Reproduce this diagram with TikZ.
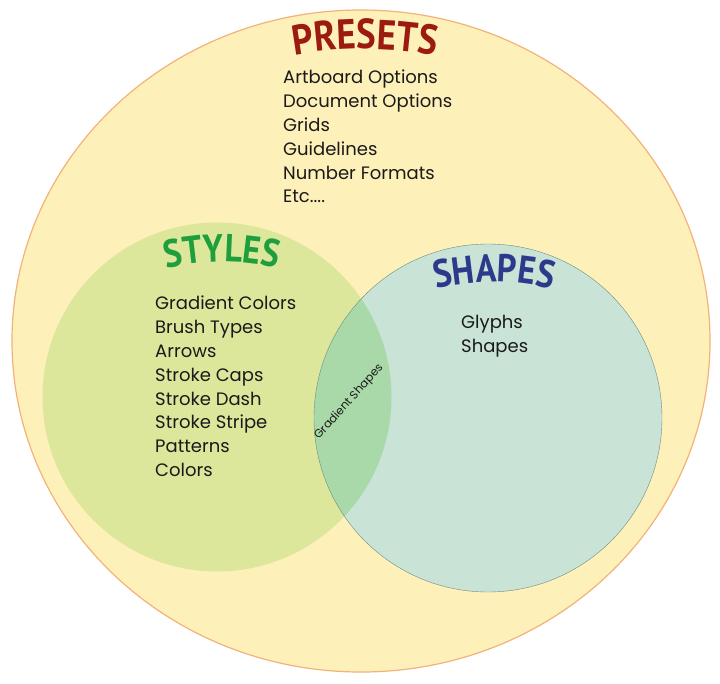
\documentclass[tikz,border=0pt]{standalone}
\usepackage{fontspec}
\setmainfont{Poppins}
\newfontfamily\titlefont[FakeStretch=0.88]{PT Sans Bold}
\usetikzlibrary{positioning,shapes.geometric,decorations.text}
\definecolor{presetfill}{HTML}{FEF0B9}
\definecolor{presetline}{HTML}{F2B27A}
\definecolor{stylefill}{HTML}{DDE79B}
\definecolor{shapefill}{HTML}{C9E3D6}
\definecolor{shapeline}{HTML}{6E8C80}
\definecolor{bothfill}{HTML}{AAD9A9}
\definecolor{presetred}{HTML}{9B1B10}
\definecolor{stylegreen}{HTML}{1E9E3C}
\definecolor{shapeblue}{HTML}{2B3A8A}
\definecolor{itemtext}{HTML}{1A1A1A}
\tikzset{
  setblob/.style={inner sep=0pt, outer sep=0pt},
  itemlist/.style={
    align=left, anchor=north west, inner sep=0pt,
    font=\fontsize{18}{23.8}\selectfont, text=itemtext
  },
  settitle/.style={
    decorate, decoration={text along path, text align=center,
      text color=#1}
  }
}

\begin{document}
\begin{tikzpicture}[x=1pt, y=1pt]
  \useasboundingbox (0,0) rectangle (720,-683);
  % the three sets
  \node[setblob, ellipse, draw=presetline, line width=1.2pt, fill=presetfill,
        minimum width=698pt, minimum height=662pt] (presets) at (361,-341) {};
  \node[setblob, circle, fill=stylefill, minimum size=349pt] (styles) at (217,-397) {};
  \node[setblob, circle, fill=shapefill, minimum size=348pt] (shapes) at (488,-418) {};
  \begin{scope}
    \clip (styles.center) circle (174.5);
    \fill[bothfill] (shapes.center) circle (174);
  \end{scope}
  \draw[shapeline, line width=0.4pt] (shapes.center) circle (174);

  % titles, on flat arcs
  \coordinate (presetarc) at (365,-449);
  \coordinate (stylearc) at (222,-502);
  \coordinate (shapearc) at (494,-522);
  \path[settitle=presetred, decoration={text={|\titlefont\fontsize{42}{42}\selectfont|PRESETS}}]
    ([shift={(105:400)}]presetarc) arc[start angle=105, end angle=75, radius=400];
  \path[settitle=stylegreen, decoration={text={|\titlefont\fontsize{39}{39}\selectfont|STYLES}}]
    ([shift={(112:240)}]stylearc) arc[start angle=112, end angle=68, radius=240];
  \path[settitle=shapeblue, decoration={text={|\titlefont\fontsize{39}{39}\selectfont|SHAPES}}]
    ([shift={(112:240)}]shapearc) arc[start angle=112, end angle=68, radius=240];

  % members
  \node[itemlist] (presetitems) at (283,-70) {Artboard Options\\Document Options\\Grids\\Guidelines\\Number Formats\\Etc....};
  \node[itemlist] (styleitems) at (155,-296) {Gradient Colors\\Brush Types\\Arrows\\Stroke Caps\\Stroke Dash\\Stroke Stripe\\Patterns\\Colors};
  \node[itemlist] (shapeitems) at (461,-315) {Glyphs\\Shapes};
  \node[rotate=48, font=\fontsize{11.5}{12}\selectfont, text=itemtext] (both) at (349,-402) {Gradient Shapes};
\end{tikzpicture}
\end{document}
